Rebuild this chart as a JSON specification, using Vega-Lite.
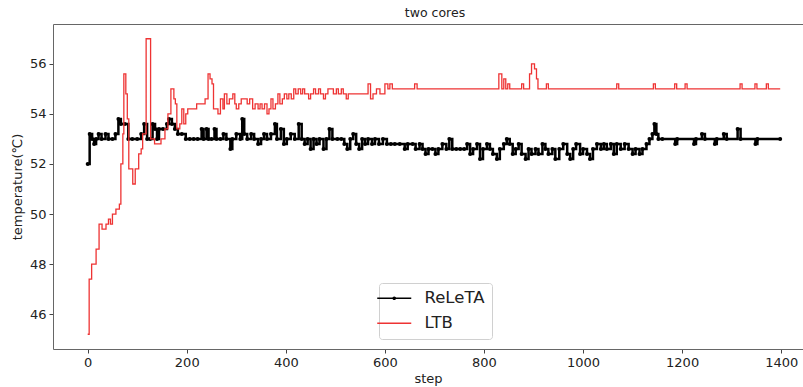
{
  "$schema": "https://vega.github.io/schema/vega-lite/v6.json",
  "width": 750,
  "height": 325,
  "autosize": {"type": "none"},
  "padding": {"left": 53, "top": 24, "right": 0, "bottom": 38},
  "background": "white",
  "title": {"text": "two cores", "fontSize": 12.5, "fontWeight": "normal", "font": "DejaVu Sans", "color": "#222", "dx": 7, "offset": 5},
  "config": {
    "view": {"stroke": null},
    "axis": {"domainColor": "#666", "domainWidth": 1, "tickColor": "#444", "tickSize": 4, "labelFont": "DejaVu Sans", "labelFontSize": 13, "labelColor": "#222", "titleFont": "DejaVu Sans", "titleFontSize": 13, "titleFontWeight": "normal", "titleColor": "#222", "grid": false, "labelPadding": 3}
  },
  "datasets": {
    "releta": [
      {"step":0,"temp":52.0,"series":"ReLeTA"},{"step":4,"temp":53.2,"series":"ReLeTA"},{"step":9,"temp":53.0,"series":"ReLeTA"},{"step":13,"temp":52.8,"series":"ReLeTA"},{"step":17,"temp":53.0,"series":"ReLeTA"},{"step":22,"temp":53.2,"series":"ReLeTA"},{"step":28,"temp":53.0,"series":"ReLeTA"},{"step":36,"temp":53.2,"series":"ReLeTA"},{"step":42,"temp":53.0,"series":"ReLeTA"},{"step":50,"temp":53.0,"series":"ReLeTA"},{"step":56,"temp":53.2,"series":"ReLeTA"},{"step":62,"temp":53.8,"series":"ReLeTA"},{"step":67,"temp":53.6,"series":"ReLeTA"},{"step":75,"temp":53.6,"series":"ReLeTA"},{"step":82,"temp":53.0,"series":"ReLeTA"},{"step":90,"temp":53.0,"series":"ReLeTA"},{"step":100,"temp":53.0,"series":"ReLeTA"},{"step":108,"temp":53.2,"series":"ReLeTA"},{"step":114,"temp":53.6,"series":"ReLeTA"},{"step":120,"temp":53.0,"series":"ReLeTA"},{"step":126,"temp":53.0,"series":"ReLeTA"},{"step":131,"temp":53.6,"series":"ReLeTA"},{"step":136,"temp":53.4,"series":"ReLeTA"},{"step":140,"temp":53.0,"series":"ReLeTA"},{"step":144,"temp":53.4,"series":"ReLeTA"},{"step":152,"temp":53.4,"series":"ReLeTA"},{"step":160,"temp":53.6,"series":"ReLeTA"},{"step":164,"temp":53.8,"series":"ReLeTA"},{"step":170,"temp":53.6,"series":"ReLeTA"},{"step":176,"temp":53.4,"series":"ReLeTA"},{"step":182,"temp":53.2,"series":"ReLeTA"},{"step":190,"temp":53.2,"series":"ReLeTA"},{"step":198,"temp":53.0,"series":"ReLeTA"},{"step":206,"temp":53.0,"series":"ReLeTA"},{"step":214,"temp":53.0,"series":"ReLeTA"},{"step":222,"temp":53.0,"series":"ReLeTA"},{"step":230,"temp":53.4,"series":"ReLeTA"},{"step":234,"temp":53.0,"series":"ReLeTA"},{"step":240,"temp":53.4,"series":"ReLeTA"},{"step":244,"temp":53.0,"series":"ReLeTA"},{"step":250,"temp":53.0,"series":"ReLeTA"},{"step":256,"temp":53.4,"series":"ReLeTA"},{"step":260,"temp":53.0,"series":"ReLeTA"},{"step":268,"temp":53.0,"series":"ReLeTA"},{"step":274,"temp":53.2,"series":"ReLeTA"},{"step":280,"temp":53.0,"series":"ReLeTA"},{"step":288,"temp":52.6,"series":"ReLeTA"},{"step":292,"temp":53.0,"series":"ReLeTA"},{"step":300,"temp":53.2,"series":"ReLeTA"},{"step":308,"temp":53.0,"series":"ReLeTA"},{"step":312,"temp":53.8,"series":"ReLeTA"},{"step":316,"temp":53.2,"series":"ReLeTA"},{"step":322,"temp":53.0,"series":"ReLeTA"},{"step":330,"temp":53.2,"series":"ReLeTA"},{"step":336,"temp":53.0,"series":"ReLeTA"},{"step":344,"temp":52.8,"series":"ReLeTA"},{"step":350,"temp":53.0,"series":"ReLeTA"},{"step":356,"temp":53.2,"series":"ReLeTA"},{"step":362,"temp":53.0,"series":"ReLeTA"},{"step":370,"temp":53.2,"series":"ReLeTA"},{"step":378,"temp":53.6,"series":"ReLeTA"},{"step":382,"temp":53.0,"series":"ReLeTA"},{"step":390,"temp":53.4,"series":"ReLeTA"},{"step":396,"temp":52.8,"series":"ReLeTA"},{"step":402,"temp":53.0,"series":"ReLeTA"},{"step":410,"temp":53.2,"series":"ReLeTA"},{"step":418,"temp":53.0,"series":"ReLeTA"},{"step":426,"temp":53.6,"series":"ReLeTA"},{"step":432,"temp":53.0,"series":"ReLeTA"},{"step":438,"temp":52.8,"series":"ReLeTA"},{"step":444,"temp":53.0,"series":"ReLeTA"},{"step":450,"temp":52.6,"series":"ReLeTA"},{"step":456,"temp":53.0,"series":"ReLeTA"},{"step":462,"temp":52.8,"series":"ReLeTA"},{"step":468,"temp":53.0,"series":"ReLeTA"},{"step":476,"temp":52.6,"series":"ReLeTA"},{"step":482,"temp":53.0,"series":"ReLeTA"},{"step":488,"temp":53.4,"series":"ReLeTA"},{"step":494,"temp":53.0,"series":"ReLeTA"},{"step":504,"temp":53.0,"series":"ReLeTA"},{"step":512,"temp":53.0,"series":"ReLeTA"},{"step":518,"temp":52.8,"series":"ReLeTA"},{"step":524,"temp":52.6,"series":"ReLeTA"},{"step":530,"temp":53.0,"series":"ReLeTA"},{"step":536,"temp":53.2,"series":"ReLeTA"},{"step":542,"temp":52.8,"series":"ReLeTA"},{"step":548,"temp":52.6,"series":"ReLeTA"},{"step":554,"temp":53.0,"series":"ReLeTA"},{"step":560,"temp":52.8,"series":"ReLeTA"},{"step":566,"temp":53.0,"series":"ReLeTA"},{"step":574,"temp":52.8,"series":"ReLeTA"},{"step":580,"temp":53.0,"series":"ReLeTA"},{"step":588,"temp":52.8,"series":"ReLeTA"},{"step":596,"temp":53.0,"series":"ReLeTA"},{"step":604,"temp":52.8,"series":"ReLeTA"},{"step":612,"temp":52.8,"series":"ReLeTA"},{"step":620,"temp":52.8,"series":"ReLeTA"},{"step":630,"temp":52.8,"series":"ReLeTA"},{"step":640,"temp":52.6,"series":"ReLeTA"},{"step":646,"temp":52.8,"series":"ReLeTA"},{"step":656,"temp":52.8,"series":"ReLeTA"},{"step":662,"temp":52.6,"series":"ReLeTA"},{"step":670,"temp":52.8,"series":"ReLeTA"},{"step":676,"temp":52.6,"series":"ReLeTA"},{"step":682,"temp":52.4,"series":"ReLeTA"},{"step":688,"temp":52.6,"series":"ReLeTA"},{"step":696,"temp":52.6,"series":"ReLeTA"},{"step":702,"temp":52.4,"series":"ReLeTA"},{"step":708,"temp":52.6,"series":"ReLeTA"},{"step":716,"temp":52.8,"series":"ReLeTA"},{"step":724,"temp":52.6,"series":"ReLeTA"},{"step":730,"temp":53.0,"series":"ReLeTA"},{"step":736,"temp":52.6,"series":"ReLeTA"},{"step":744,"temp":52.6,"series":"ReLeTA"},{"step":752,"temp":52.6,"series":"ReLeTA"},{"step":760,"temp":52.6,"series":"ReLeTA"},{"step":766,"temp":52.8,"series":"ReLeTA"},{"step":772,"temp":52.4,"series":"ReLeTA"},{"step":778,"temp":52.6,"series":"ReLeTA"},{"step":786,"temp":52.8,"series":"ReLeTA"},{"step":792,"temp":52.2,"series":"ReLeTA"},{"step":798,"temp":52.6,"series":"ReLeTA"},{"step":806,"temp":52.8,"series":"ReLeTA"},{"step":812,"temp":52.6,"series":"ReLeTA"},{"step":818,"temp":52.4,"series":"ReLeTA"},{"step":826,"temp":52.2,"series":"ReLeTA"},{"step":832,"temp":52.6,"series":"ReLeTA"},{"step":840,"temp":52.8,"series":"ReLeTA"},{"step":846,"temp":53.0,"series":"ReLeTA"},{"step":852,"temp":52.8,"series":"ReLeTA"},{"step":858,"temp":52.4,"series":"ReLeTA"},{"step":864,"temp":52.6,"series":"ReLeTA"},{"step":870,"temp":52.8,"series":"ReLeTA"},{"step":876,"temp":52.4,"series":"ReLeTA"},{"step":884,"temp":52.2,"series":"ReLeTA"},{"step":890,"temp":52.6,"series":"ReLeTA"},{"step":896,"temp":52.4,"series":"ReLeTA"},{"step":904,"temp":52.6,"series":"ReLeTA"},{"step":910,"temp":52.4,"series":"ReLeTA"},{"step":918,"temp":52.8,"series":"ReLeTA"},{"step":924,"temp":52.6,"series":"ReLeTA"},{"step":930,"temp":52.4,"series":"ReLeTA"},{"step":938,"temp":52.6,"series":"ReLeTA"},{"step":944,"temp":52.2,"series":"ReLeTA"},{"step":952,"temp":52.6,"series":"ReLeTA"},{"step":960,"temp":52.8,"series":"ReLeTA"},{"step":968,"temp":52.4,"series":"ReLeTA"},{"step":974,"temp":52.2,"series":"ReLeTA"},{"step":980,"temp":52.6,"series":"ReLeTA"},{"step":986,"temp":52.8,"series":"ReLeTA"},{"step":994,"temp":52.4,"series":"ReLeTA"},{"step":1000,"temp":52.6,"series":"ReLeTA"},{"step":1008,"temp":52.4,"series":"ReLeTA"},{"step":1014,"temp":52.2,"series":"ReLeTA"},{"step":1020,"temp":52.6,"series":"ReLeTA"},{"step":1028,"temp":52.8,"series":"ReLeTA"},{"step":1036,"temp":52.6,"series":"ReLeTA"},{"step":1042,"temp":52.8,"series":"ReLeTA"},{"step":1048,"temp":52.6,"series":"ReLeTA"},{"step":1056,"temp":52.8,"series":"ReLeTA"},{"step":1062,"temp":52.4,"series":"ReLeTA"},{"step":1068,"temp":52.8,"series":"ReLeTA"},{"step":1076,"temp":52.6,"series":"ReLeTA"},{"step":1084,"temp":52.8,"series":"ReLeTA"},{"step":1092,"temp":52.6,"series":"ReLeTA"},{"step":1100,"temp":52.4,"series":"ReLeTA"},{"step":1106,"temp":52.6,"series":"ReLeTA"},{"step":1114,"temp":52.4,"series":"ReLeTA"},{"step":1120,"temp":52.6,"series":"ReLeTA"},{"step":1128,"temp":52.8,"series":"ReLeTA"},{"step":1134,"temp":53.0,"series":"ReLeTA"},{"step":1140,"temp":53.2,"series":"ReLeTA"},{"step":1144,"temp":53.6,"series":"ReLeTA"},{"step":1148,"temp":53.2,"series":"ReLeTA"},{"step":1152,"temp":53.0,"series":"ReLeTA"},{"step":1160,"temp":53.0,"series":"ReLeTA"},{"step":1186,"temp":52.8,"series":"ReLeTA"},{"step":1190,"temp":53.0,"series":"ReLeTA"},{"step":1224,"temp":52.8,"series":"ReLeTA"},{"step":1228,"temp":53.0,"series":"ReLeTA"},{"step":1240,"temp":53.2,"series":"ReLeTA"},{"step":1246,"temp":53.0,"series":"ReLeTA"},{"step":1266,"temp":52.8,"series":"ReLeTA"},{"step":1270,"temp":53.0,"series":"ReLeTA"},{"step":1284,"temp":53.2,"series":"ReLeTA"},{"step":1290,"temp":53.0,"series":"ReLeTA"},{"step":1312,"temp":53.4,"series":"ReLeTA"},{"step":1318,"temp":53.0,"series":"ReLeTA"},{"step":1348,"temp":52.8,"series":"ReLeTA"},{"step":1352,"temp":53.0,"series":"ReLeTA"},{"step":1398,"temp":53.0,"series":"ReLeTA"}
    ],
    "ltb": [
      {"step":0,"temp":45.2,"series":"LTB"},{"step":3,"temp":47.4,"series":"LTB"},{"step":8,"temp":48.0,"series":"LTB"},{"step":17,"temp":48.6,"series":"LTB"},{"step":23,"temp":49.6,"series":"LTB"},{"step":29,"temp":49.4,"series":"LTB"},{"step":37,"temp":49.6,"series":"LTB"},{"step":42,"temp":49.8,"series":"LTB"},{"step":46,"temp":49.6,"series":"LTB"},{"step":50,"temp":50.0,"series":"LTB"},{"step":57,"temp":50.2,"series":"LTB"},{"step":64,"temp":50.4,"series":"LTB"},{"step":67,"temp":52.0,"series":"LTB"},{"step":71,"temp":53.2,"series":"LTB"},{"step":73,"temp":55.6,"series":"LTB"},{"step":77,"temp":54.8,"series":"LTB"},{"step":80,"temp":53.8,"series":"LTB"},{"step":83,"temp":51.8,"series":"LTB"},{"step":91,"temp":51.2,"series":"LTB"},{"step":96,"temp":51.8,"series":"LTB"},{"step":103,"temp":52.4,"series":"LTB"},{"step":108,"temp":52.6,"series":"LTB"},{"step":111,"temp":53.2,"series":"LTB"},{"step":118,"temp":57.0,"series":"LTB"},{"step":127,"temp":53.0,"series":"LTB"},{"step":135,"temp":52.8,"series":"LTB"},{"step":148,"temp":53.0,"series":"LTB"},{"step":156,"temp":53.4,"series":"LTB"},{"step":162,"temp":54.0,"series":"LTB"},{"step":168,"temp":55.0,"series":"LTB"},{"step":174,"temp":54.6,"series":"LTB"},{"step":177,"temp":54.4,"series":"LTB"},{"step":180,"temp":53.4,"series":"LTB"},{"step":186,"temp":53.6,"series":"LTB"},{"step":190,"temp":54.2,"series":"LTB"},{"step":194,"temp":53.6,"series":"LTB"},{"step":198,"temp":54.0,"series":"LTB"},{"step":202,"temp":54.2,"series":"LTB"},{"step":212,"temp":54.2,"series":"LTB"},{"step":220,"temp":54.4,"series":"LTB"},{"step":230,"temp":54.4,"series":"LTB"},{"step":237,"temp":54.6,"series":"LTB"},{"step":243,"temp":55.6,"series":"LTB"},{"step":247,"temp":55.4,"series":"LTB"},{"step":251,"temp":55.2,"series":"LTB"},{"step":254,"temp":54.2,"series":"LTB"},{"step":263,"temp":54.0,"series":"LTB"},{"step":268,"temp":54.6,"series":"LTB"},{"step":273,"temp":54.2,"series":"LTB"},{"step":276,"temp":54.8,"series":"LTB"},{"step":281,"temp":54.4,"series":"LTB"},{"step":286,"temp":54.6,"series":"LTB"},{"step":293,"temp":54.8,"series":"LTB"},{"step":297,"temp":54.4,"series":"LTB"},{"step":300,"temp":54.2,"series":"LTB"},{"step":305,"temp":54.4,"series":"LTB"},{"step":310,"temp":54.6,"series":"LTB"},{"step":317,"temp":54.6,"series":"LTB"},{"step":322,"temp":54.4,"series":"LTB"},{"step":327,"temp":54.6,"series":"LTB"},{"step":333,"temp":54.2,"series":"LTB"},{"step":338,"temp":54.4,"series":"LTB"},{"step":344,"temp":54.2,"series":"LTB"},{"step":348,"temp":54.4,"series":"LTB"},{"step":352,"temp":54.2,"series":"LTB"},{"step":357,"temp":54.4,"series":"LTB"},{"step":362,"temp":54.0,"series":"LTB"},{"step":366,"temp":54.2,"series":"LTB"},{"step":370,"temp":54.6,"series":"LTB"},{"step":374,"temp":54.2,"series":"LTB"},{"step":379,"temp":54.4,"series":"LTB"},{"step":384,"temp":54.8,"series":"LTB"},{"step":388,"temp":54.4,"series":"LTB"},{"step":393,"temp":54.6,"series":"LTB"},{"step":397,"temp":54.8,"series":"LTB"},{"step":402,"temp":54.6,"series":"LTB"},{"step":406,"temp":54.8,"series":"LTB"},{"step":411,"temp":54.6,"series":"LTB"},{"step":416,"temp":55.0,"series":"LTB"},{"step":420,"temp":54.8,"series":"LTB"},{"step":425,"temp":55.0,"series":"LTB"},{"step":430,"temp":54.8,"series":"LTB"},{"step":434,"temp":55.0,"series":"LTB"},{"step":438,"temp":54.8,"series":"LTB"},{"step":446,"temp":54.6,"series":"LTB"},{"step":450,"temp":54.8,"series":"LTB"},{"step":456,"temp":55.0,"series":"LTB"},{"step":460,"temp":54.8,"series":"LTB"},{"step":466,"temp":55.0,"series":"LTB"},{"step":470,"temp":54.8,"series":"LTB"},{"step":476,"temp":54.6,"series":"LTB"},{"step":480,"temp":54.8,"series":"LTB"},{"step":485,"temp":55.0,"series":"LTB"},{"step":496,"temp":54.8,"series":"LTB"},{"step":502,"temp":55.0,"series":"LTB"},{"step":506,"temp":54.8,"series":"LTB"},{"step":512,"temp":55.0,"series":"LTB"},{"step":516,"temp":54.8,"series":"LTB"},{"step":522,"temp":54.6,"series":"LTB"},{"step":526,"temp":54.8,"series":"LTB"},{"step":556,"temp":54.8,"series":"LTB"},{"step":566,"temp":55.2,"series":"LTB"},{"step":571,"temp":54.6,"series":"LTB"},{"step":576,"temp":54.8,"series":"LTB"},{"step":583,"temp":55.0,"series":"LTB"},{"step":590,"temp":54.8,"series":"LTB"},{"step":600,"temp":55.2,"series":"LTB"},{"step":606,"temp":55.0,"series":"LTB"},{"step":610,"temp":55.2,"series":"LTB"},{"step":615,"temp":55.0,"series":"LTB"},{"step":660,"temp":55.2,"series":"LTB"},{"step":665,"temp":55.0,"series":"LTB"},{"step":830,"temp":55.6,"series":"LTB"},{"step":836,"temp":55.0,"series":"LTB"},{"step":840,"temp":55.4,"series":"LTB"},{"step":844,"temp":55.0,"series":"LTB"},{"step":848,"temp":55.2,"series":"LTB"},{"step":852,"temp":55.0,"series":"LTB"},{"step":876,"temp":55.2,"series":"LTB"},{"step":880,"temp":55.0,"series":"LTB"},{"step":892,"temp":55.6,"series":"LTB"},{"step":896,"temp":56.0,"series":"LTB"},{"step":902,"temp":55.8,"series":"LTB"},{"step":906,"temp":55.4,"series":"LTB"},{"step":909,"temp":55.0,"series":"LTB"},{"step":926,"temp":55.2,"series":"LTB"},{"step":930,"temp":55.0,"series":"LTB"},{"step":1068,"temp":55.2,"series":"LTB"},{"step":1072,"temp":55.0,"series":"LTB"},{"step":1142,"temp":55.2,"series":"LTB"},{"step":1146,"temp":55.0,"series":"LTB"},{"step":1185,"temp":55.2,"series":"LTB"},{"step":1189,"temp":55.0,"series":"LTB"},{"step":1206,"temp":55.2,"series":"LTB"},{"step":1210,"temp":55.0,"series":"LTB"},{"step":1317,"temp":55.2,"series":"LTB"},{"step":1321,"temp":55.0,"series":"LTB"},{"step":1347,"temp":55.2,"series":"LTB"},{"step":1351,"temp":55.0,"series":"LTB"},{"step":1370,"temp":55.2,"series":"LTB"},{"step":1374,"temp":55.0,"series":"LTB"},{"step":1398,"temp":55.0,"series":"LTB"}
    ]
  },
  "resolve": {"axis": {"x": "independent"}},
  "layer": [
    {
      "data": {"name": "releta"},
      "mark": {"type": "line", "interpolate": "step-after", "strokeWidth": 2.5, "point": {"filled": true, "size": 16}},
      "encoding": {
        "x": {"field": "step", "type": "quantitative", "scale": {"domain": [-70, 1444], "nice": false, "zero": false}, "axis": {"orient": "bottom", "values": [0,200,400,600,800,1000,1200,1400], "format": "d", "title": "step", "titlePadding": 3}},
        "y": {"field": "temp", "type": "quantitative", "scale": {"domain": [44.61, 57.59], "nice": false, "zero": false}, "axis": {"values": [46,48,50,52,54,56], "title": "temperature(℃)", "titlePadding": 5}},
        "color": {"field": "series", "type": "nominal", "scale": {"domain": ["ReLeTA", "LTB"], "range": ["#000000", "#ee3333"]},
          "legend": {"orient": "none", "legendX": 326, "legendY": 259, "title": null, "symbolType": "M-2.43,0H2.43", "symbolSize": 196, "symbolStrokeWidth": 1.5, "labelFontSize": 16.5, "labelFont": "DejaVu Sans", "labelColor": "#222", "rowPadding": 8, "padding": 7, "strokeColor": "#d0d0d0", "fillColor": "white", "cornerRadius": 3, "labelOffset": 22,
            "encode": {"symbols": {"update": {"shape": {"signal": "datum.value === 'ReLeTA' ? 'M-2.43,0H2.43M-0.16,0A0.16,0.16,0,1,0,0.16,0A0.16,0.16,0,1,0,-0.16,0' : 'M-2.43,0H2.43'"}}}}}}
      }
    },
    {
      "data": {"name": "ltb"},
      "mark": {"type": "line", "interpolate": "step-after", "strokeWidth": 1.3},
      "encoding": {
        "x": {"field": "step", "type": "quantitative", "axis": {"orient": "top", "labels": false, "ticks": false, "title": null}},
        "y": {"field": "temp", "type": "quantitative"},
        "color": {"field": "series", "type": "nominal"}
      }
    }
  ]
}
